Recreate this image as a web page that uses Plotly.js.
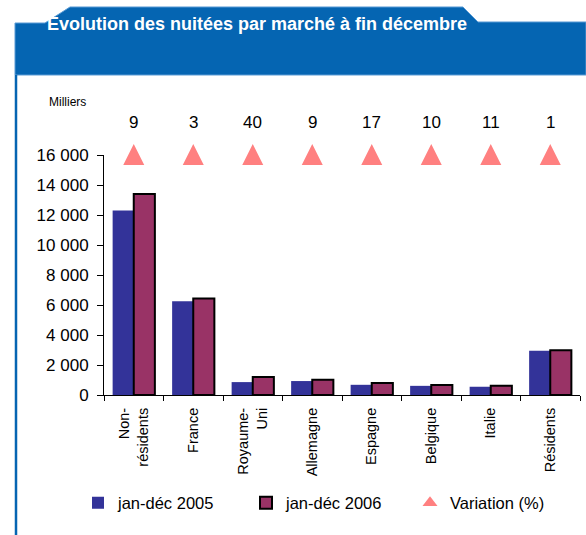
<!DOCTYPE html>
<html>
<head>
<meta charset="utf-8">
<script src="https://cdn.plot.ly/plotly-3.0.1.min.js"></script>
<style>
  html, body { margin: 0; padding: 0; background: #ffffff; }
  #chart { width: 586px; height: 535px; }
</style>
</head>
<body>
<div id="chart"></div>
<script>
// ---- Data ----
const categories = ["Non-<br>résidents", "France", "Royaume-<br>Uni", "Allemagne", "Espagne", "Belgique", "Italie", "Résidents"];
const nuitees2005 = [12300, 6250, 860, 930, 680, 610, 550, 2950];   // milliers
const nuitees2006 = [13400, 6430, 1200, 1010, 795, 670, 610, 2980]; // milliers
const variationPct = [9, 3, 40, 9, 17, 10, 11, 1];
const yTicks = [0, 2000, 4000, 6000, 8000, 10000, 12000, 14000, 16000];
const seriesNames = ["jan-déc 2005", "jan-déc 2006", "Variation (%)"];
const chartTitle = "Evolution des nuitées par marché à fin décembre";
const unitLabel = "Milliers";

// ---- Layout helpers (pixel -> paper for decoration shapes) ----
const W = 586, H = 535;
const M = { l: 104, r: 6, t: 155, b: 140, pad: 0 };
const PW = W - M.l - M.r, PH = H - M.t - M.b;
const px = x => (x - M.l) / PW;
const py = y => (H - M.b - y) / PH;
const yMax = yTicks[yTicks.length - 1];

const FONT = "Liberation Sans, Arial, Helvetica, sans-serif";
const BLUE_FRAME = "#0565B2";
const TRI_COLOR = "#FF8080";

function pathFrom(points) {
  return "M" + points.map(p => px(p[0]).toFixed(5) + "," + py(p[1]).toFixed(5)).join(" L") + " Z";
}

const bannerPath = pathFrom([[15, 75], [15, 23], [45, 23], [70, 7], [463, 7], [478, 22], [586, 22], [586, 75]]);

const traces = [
  {
    type: "bar", name: seriesNames[0], x: categories, y: nuitees2005, legend: "legend",
    marker: { color: "#333399", line: { width: 0 } }
  },
  {
    type: "bar", name: seriesNames[1], x: categories, y: nuitees2006, legend: "legend2",
    marker: { color: "#993366", line: { color: "#000000", width: 2 } }
  },
  {
    // variation markers, drawn at the top of the value axis
    type: "scatter", mode: "markers", name: seriesNames[2], x: categories, showlegend: false,
    y: variationPct.map(() => yMax), customdata: variationPct,
    marker: { symbol: "arrow-down", angle: 180, standoff: 11, size: 21, color: TRI_COLOR },
    cliponaxis: false
  },
  {
    // legend entry only (a single blank point, nothing drawn in the plot)
    type: "scatter", mode: "markers", name: seriesNames[2], x: [categories[0]], y: [null], legend: "legend3",
    marker: { symbol: "triangle-up", size: 13, color: TRI_COLOR }
  }
];

const annotations = categories.map((c, i) => ({
  x: c, y: yMax, xref: "x", yref: "y", text: String(variationPct[i]),
  showarrow: false, yshift: 33, font: { family: FONT, size: 17, color: "#000" }
}));
annotations.push({
  x: px(47), y: py(102), xref: "paper", yref: "paper", xanchor: "left", yanchor: "middle",
  text: unitLabel, showarrow: false, font: { family: FONT, size: 12, color: "#000" }
});

function legendAt(xPix) {
  return {
    orientation: "h", xref: "container", yref: "container",
    x: xPix / W, xanchor: "left", y: 1 - 503 / H, yanchor: "middle",
    font: { family: FONT, size: 16.5, color: "#000" },
    itemwidth: 30, bgcolor: "rgba(0,0,0,0)"
  };
}

const layout = {
  width: W, height: H,
  margin: M,
  paper_bgcolor: "#ffffff", plot_bgcolor: "#ffffff",
  font: { family: FONT, color: "#000" },
  title: {
    text: "<b>" + chartTitle + "</b>",
    font: { family: FONT, size: 18, color: "#ffffff" },
    xref: "container", yref: "container", x: 47 / W, xanchor: "left",
    y: 1 - 24 / H, yanchor: "middle"
  },
  barmode: "group", bargap: 0.29, bargroupgap: 0,
  showlegend: true,
  legend: legendAt(78),
  legend2: legendAt(246),
  legend3: legendAt(410),
  xaxis: {
    type: "category", range: [-0.5, categories.length - 0.5],
    showgrid: false, zeroline: false, automargin: false,
    showline: true, linecolor: "#000", linewidth: 1,
    ticks: "outside", ticklen: 5, tickcolor: "#000", tickson: "boundaries",
    tickangle: -90, tickfont: { family: FONT, size: 14.5, color: "#000" },
    ticklabelstandoff: 6, fixedrange: true
  },
  yaxis: {
    range: [0, yMax], tickvals: yTicks, tickformat: ",d", automargin: false,
    showgrid: false, zeroline: false,
    showline: true, linecolor: "#000", linewidth: 1,
    ticks: "outside", ticklen: 6, tickcolor: "#000",
    tickfont: { family: FONT, size: 17, color: "#000" },
    ticklabelstandoff: 5, fixedrange: true
  },
  separators: ", ",
  annotations: annotations,
  shapes: [
    { type: "path", xref: "paper", yref: "paper", path: bannerPath, fillcolor: BLUE_FRAME,
      line: { color: "#5A9BD5", width: 1 }, layer: "below" },
    { type: "line", xref: "paper", yref: "paper", x0: px(16), x1: px(16), y0: py(75), y1: py(536),
      line: { color: BLUE_FRAME, width: 2.5 }, layer: "below" }
  ]
};

Plotly.newPlot("chart", traces, layout, { displayModeBar: false, staticPlot: true });
</script>
</body>
</html>
